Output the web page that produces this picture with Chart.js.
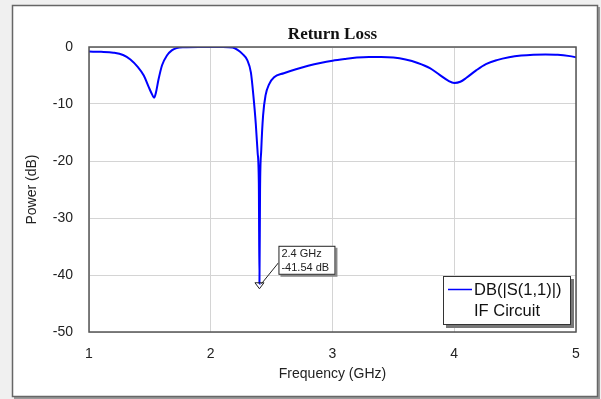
<!DOCTYPE html>
<html>
<head>
<meta charset="utf-8">
<title>Return Loss</title>
<script src="https://cdn.jsdelivr.net/npm/chart.js@4.4.1/dist/chart.umd.min.js"></script>
<style>
  html, body { margin: 0; padding: 0; background: #f0f0f0; }
  #wrap { width: 601px; height: 399px; }
</style>
</head>
<body>
<div id="wrap"><canvas id="rlChart" width="601" height="399"></canvas></div>
<script>
// Frequency sweep (GHz) and measured return loss (dB)
const freqGHz = [
    1.00, 1.10, 1.20, 1.28, 1.34, 1.40, 1.45, 1.49, 1.52, 1.535,
    1.55, 1.57, 1.60, 1.64, 1.68, 1.72, 1.78, 1.90, 2.00, 2.10,
    2.18, 2.22, 2.26, 2.30, 2.33, 2.35, 2.37, 2.385, 2.395, 2.40,
    2.405, 2.415, 2.43, 2.45, 2.48, 2.52, 2.60, 2.70, 2.80, 2.90,
    3.00, 3.10, 3.20, 3.30, 3.40, 3.50, 3.60, 3.70, 3.80, 3.88,
    3.95, 4.00, 4.05, 4.10, 4.18, 4.26, 4.35, 4.45, 4.55, 4.65,
    4.75, 4.85, 4.95, 5.00
];
const s11dB = [
    -0.8, -0.85, -1.0, -1.4, -2.2, -3.5, -5.0, -7.0, -8.4, -8.9,
    -8.0, -5.8, -3.2, -1.5, -0.6, -0.2, -0.05, 0, 0, 0,
    -0.1, -0.5, -1.2, -2.3, -4.5, -8.5, -13.5, -18.5, -24, -41.54,
    -25, -18, -12, -8.5, -6.5, -5.3, -4.6, -3.9, -3.3, -2.8,
    -2.4, -2.1, -1.85, -1.75, -1.75, -1.85, -2.2, -2.8, -3.7, -4.9,
    -5.9, -6.3, -6.1, -5.4, -4.1, -3.0, -2.3, -1.8, -1.5, -1.35,
    -1.3, -1.35, -1.6, -1.8
];
const xTicks = [1, 2, 3, 4, 5];
const yTicks = [0, -10, -20, -30, -40, -50];

const markerFreq = 2.4;
const markerDb = -41.54;
const markerLines = ['2.4 GHz', '-41.54 dB'];
const legendLines = ['DB(|S(1,1)|)', 'IF Circuit'];

const SANS = "'Liberation Sans', Arial, sans-serif";
const SERIF = "'Liberation Serif', 'Times New Roman', serif";

// outer window frame, drawn behind everything
const framePlugin = {
    id: 'frame',
    beforeDraw(chart) {
        const ctx = chart.ctx;
        ctx.save();
        ctx.fillStyle = '#f0f0f0';
        ctx.fillRect(0, 0, chart.width, chart.height);
        // shadow on right / bottom
        ctx.fillStyle = '#9a9a9a';
        ctx.fillRect(14, 7, 586, 392);
        ctx.fillStyle = '#ffffff';
        ctx.fillRect(12, 5, 586, 392);
        ctx.strokeStyle = '#666';
        ctx.lineWidth = 1.5;
        ctx.strokeRect(12.5, 5.5, 585, 391);
        ctx.restore();
    },
    afterDatasetsDraw(chart) {
        const {ctx, chartArea: a} = chart;
        ctx.save();
        ctx.strokeStyle = '#555';
        ctx.lineWidth = 1.5;
        ctx.strokeRect(a.left, a.top, a.right - a.left, a.bottom - a.top);
        ctx.restore();
    }
};

// marker triangle + readout box, and the boxed legend
const notesPlugin = {
    id: 'notes',
    afterDraw(chart) {
        const ctx = chart.ctx;
        const xs = chart.scales.x, ys = chart.scales.y;
        const px = xs.getPixelForValue(markerFreq);
        const py = ys.getPixelForValue(markerDb);
        ctx.save();

        // open triangle marker
        ctx.strokeStyle = '#222';
        ctx.lineWidth = 1;
        ctx.beginPath();
        ctx.moveTo(px - 4.5, py - 1);
        ctx.lineTo(px + 4.5, py - 1);
        ctx.lineTo(px, py + 5);
        ctx.closePath();
        ctx.stroke();

        // leader line
        ctx.beginPath();
        ctx.moveTo(px + 2, py);
        ctx.lineTo(px + 19, py - 21);
        ctx.stroke();

        // readout box
        const bx = px + 19, by = py - 38, bw = 57, bh = 29;
        ctx.fillStyle = '#888';
        ctx.fillRect(bx + 2, by + 2, bw, bh);
        ctx.fillStyle = '#fff';
        ctx.fillRect(bx, by, bw, bh);
        ctx.strokeStyle = '#222';
        ctx.strokeRect(bx + 0.5, by + 0.5, bw - 1, bh - 1);
        ctx.fillStyle = '#222';
        ctx.font = '11px ' + SANS;
        ctx.textBaseline = 'middle';
        ctx.textAlign = 'left';
        ctx.fillText(markerLines[0], bx + 3, by + 8);
        ctx.fillText(markerLines[1], bx + 3, by + 22);

        // legend box
        const a = chart.chartArea;
        const lw = 128, lh = 49;
        const lx = a.right - 5 - lw, ly = a.bottom - 7 - lh;
        ctx.fillStyle = '#777';
        ctx.fillRect(lx + 3, ly + 3, lw, lh);
        ctx.fillStyle = '#fff';
        ctx.fillRect(lx, ly, lw, lh);
        ctx.strokeStyle = '#333';
        ctx.lineWidth = 1;
        ctx.strokeRect(lx + 0.5, ly + 0.5, lw - 1, lh - 1);
        ctx.strokeStyle = '#0000ff';
        ctx.lineWidth = 1.5;
        ctx.beginPath();
        ctx.moveTo(lx + 5, ly + 13.5);
        ctx.lineTo(lx + 29, ly + 13.5);
        ctx.stroke();
        ctx.fillStyle = '#111';
        ctx.font = '16.5px ' + SANS;
        ctx.fillText(legendLines[0], lx + 31, ly + 14);
        ctx.fillText(legendLines[1], lx + 31, ly + 35);
        ctx.restore();
    }
};

const ctx = document.getElementById('rlChart').getContext('2d');
new Chart(ctx, {
    type: 'line',
    data: {
        datasets: [{
            label: legendLines[0],
            data: freqGHz.map((f, i) => ({ x: f, y: s11dB[i] })),
            borderColor: '#0000ff',
            backgroundColor: '#0000ff',
            borderWidth: 2,
            pointRadius: 0,
            fill: false,
            cubicInterpolationMode: 'monotone'
        }]
    },
    options: {
        responsive: false,
        animation: false,
        layout: { padding: { left: 12, top: 6, right: 25, bottom: 0 } },
        plugins: {
            legend: { display: false },
            tooltip: { enabled: false },
            title: {
                display: true,
                text: 'Return Loss',
                fullSize: false,
                color: '#111',
                font: { family: SERIF, size: 17, weight: 'bold', lineHeight: 1.2 },
                padding: { top: 18.6, bottom: 2 }
            }
        },
        scales: {
            x: {
                type: 'linear',
                min: xTicks[0],
                max: xTicks[xTicks.length - 1],
                afterBuildTicks: s => { s.ticks = xTicks.map(v => ({ value: v })); },
                afterFit: s => { s.height = 67; },
                grid: { color: '#d4d4d4', drawTicks: false },
                border: { display: false },
                ticks: { color: '#222', padding: 14, font: { family: SANS, size: 14 } },
                title: {
                    display: true,
                    text: 'Frequency (GHz)',
                    color: '#222',
                    font: { family: SANS, size: 14, lineHeight: 1.2 },
                    padding: { top: 0, bottom: 16.6 }
                }
            },
            y: {
                min: yTicks[yTicks.length - 1],
                max: yTicks[0],
                afterBuildTicks: s => { s.ticks = yTicks.slice().reverse().map(v => ({ value: v })); },
                afterFit: s => { s.width = 77; },
                grid: { color: '#d4d4d4', drawTicks: false },
                border: { display: false },
                ticks: { color: '#222', padding: 16, font: { family: SANS, size: 14 } },
                title: {
                    display: true,
                    text: 'Power (dB)',
                    color: '#222',
                    font: { family: SANS, size: 14, lineHeight: 1.2 },
                    padding: { top: 12, bottom: 0 }
                }
            }
        }
    },
    plugins: [framePlugin, notesPlugin]
});
</script>
</body>
</html>
